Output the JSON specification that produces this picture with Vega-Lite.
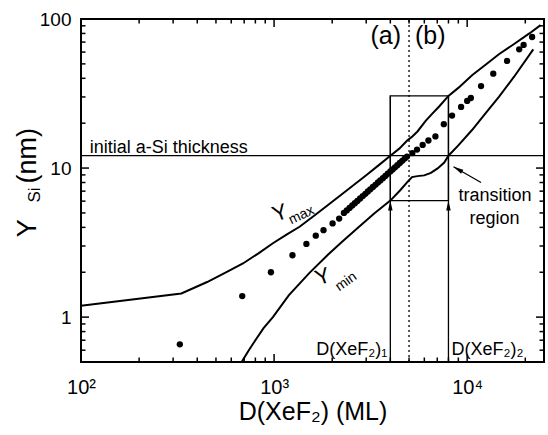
{
  "$schema": "https://vega.github.io/schema/vega-lite/v6.json",
  "width": 463,
  "height": 343,
  "autosize": "none",
  "padding": {"left": 81, "top": 19, "right": 4, "bottom": 73},
  "background": "white",
  "config": {"view": {"stroke": "black", "strokeWidth": 2}, "font": "Liberation Sans"},
  "resolve": {"axis": {"x": "independent", "y": "independent"}},
  "datasets": {
    "ymax": [
      {"x": 100, "y": 1.19}, {"x": 331, "y": 1.44}, {"x": 450, "y": 1.72}, {"x": 560, "y": 1.99},
      {"x": 690, "y": 2.29}, {"x": 830, "y": 2.68}, {"x": 986, "y": 3.13}, {"x": 1160, "y": 3.58},
      {"x": 1355, "y": 4.04}, {"x": 1650, "y": 4.9}, {"x": 2000, "y": 5.95}, {"x": 2450, "y": 7.3},
      {"x": 3000, "y": 8.95}, {"x": 3500, "y": 10.5}, {"x": 4000, "y": 12.1}, {"x": 4450, "y": 13.5},
      {"x": 4920, "y": 15.4}, {"x": 5200, "y": 16.3}, {"x": 5530, "y": 17.6}, {"x": 6110, "y": 20.8},
      {"x": 6600, "y": 23.2}, {"x": 7160, "y": 25.9}, {"x": 8000, "y": 30.5}, {"x": 9000, "y": 34.5},
      {"x": 10600, "y": 42}, {"x": 12500, "y": 49.5}, {"x": 14600, "y": 58}, {"x": 17500, "y": 68},
      {"x": 21000, "y": 80}, {"x": 24000, "y": 91}
    ],
    "ymin": [
      {"x": 679, "y": 0.5}, {"x": 740, "y": 0.6}, {"x": 800, "y": 0.7}, {"x": 880, "y": 0.84},
      {"x": 986, "y": 1.0}, {"x": 1191, "y": 1.4}, {"x": 1525, "y": 1.98}, {"x": 1900, "y": 2.62},
      {"x": 2250, "y": 3.2}, {"x": 2700, "y": 3.95}, {"x": 3300, "y": 4.95}, {"x": 4000, "y": 6.05},
      {"x": 4500, "y": 7.1}, {"x": 4920, "y": 8.1}, {"x": 5180, "y": 8.7}, {"x": 5530, "y": 8.83},
      {"x": 5990, "y": 8.93}, {"x": 6490, "y": 9.29}, {"x": 7030, "y": 9.95}, {"x": 7610, "y": 10.9},
      {"x": 8000, "y": 12.1}, {"x": 9000, "y": 14.2}, {"x": 10600, "y": 18}, {"x": 12500, "y": 23.5},
      {"x": 14600, "y": 30}, {"x": 17500, "y": 41}, {"x": 22000, "y": 62.5}
    ],
    "dots": [
      {"x": 325, "y": 0.657}, {"x": 684, "y": 1.385}, {"x": 963, "y": 2.0}, {"x": 1245, "y": 2.6},
      {"x": 1470, "y": 3.1}, {"x": 1644, "y": 3.52}, {"x": 1803, "y": 3.83}, {"x": 2009, "y": 4.25},
      {"x": 2173, "y": 4.58}, {"x": 2300, "y": 5.0}, {"x": 2380, "y": 5.2}, {"x": 2460, "y": 5.4},
      {"x": 2540, "y": 5.61}, {"x": 2620, "y": 5.81}, {"x": 2700, "y": 6.02}, {"x": 2790, "y": 6.25},
      {"x": 2880, "y": 6.49}, {"x": 2970, "y": 6.72}, {"x": 3060, "y": 6.96}, {"x": 3150, "y": 7.2},
      {"x": 3250, "y": 7.46}, {"x": 3350, "y": 7.72}, {"x": 3450, "y": 8.0}, {"x": 3550, "y": 8.26},
      {"x": 3660, "y": 8.56}, {"x": 3770, "y": 8.86}, {"x": 3880, "y": 9.16}, {"x": 4000, "y": 9.49},
      {"x": 4110, "y": 9.79}, {"x": 4230, "y": 10.12}, {"x": 4350, "y": 10.45}, {"x": 4480, "y": 10.81},
      {"x": 4610, "y": 11.18}, {"x": 4750, "y": 11.57}, {"x": 4880, "y": 11.94},
      {"x": 5200, "y": 12.6}, {"x": 5500, "y": 13.3}, {"x": 5880, "y": 14.3}, {"x": 6300, "y": 15.3},
      {"x": 6850, "y": 16.3}, {"x": 7570, "y": 19.7}, {"x": 8350, "y": 22.5}, {"x": 9300, "y": 25.7},
      {"x": 10000, "y": 28.2}, {"x": 10450, "y": 29.5}, {"x": 11800, "y": 35.5}, {"x": 13650, "y": 43},
      {"x": 16100, "y": 52.3}, {"x": 18600, "y": 62.6}, {"x": 19600, "y": 67}, {"x": 21700, "y": 75.7}
    ],
    "xmajor": [{"x": 100}, {"x": 1000}, {"x": 10000}],
    "xminor": [
      {"x": 200}, {"x": 300}, {"x": 400}, {"x": 500}, {"x": 600}, {"x": 700}, {"x": 800}, {"x": 900},
      {"x": 2000}, {"x": 3000}, {"x": 4000}, {"x": 5000}, {"x": 6000}, {"x": 7000}, {"x": 8000}, {"x": 9000},
      {"x": 20000}
    ],
    "ymajor": [{"y": 1}, {"y": 10}, {"y": 100}],
    "yminor": [
      {"y": 0.5}, {"y": 0.6}, {"y": 0.7}, {"y": 0.8}, {"y": 0.9},
      {"y": 2}, {"y": 3}, {"y": 4}, {"y": 5}, {"y": 6}, {"y": 7}, {"y": 8}, {"y": 9},
      {"y": 20}, {"y": 30}, {"y": 40}, {"y": 50}, {"y": 60}, {"y": 70}, {"y": 80}, {"y": 90}
    ]
  },
  "layer": [
    {
      "data": {"name": "ymax"},
      "mark": {"type": "line", "color": "black", "strokeWidth": 2},
      "encoding": {
        "x": {
          "field": "x", "type": "quantitative",
          "scale": {"type": "log", "domain": [100, 25000], "nice": false},
          "axis": {
            "orient": "bottom", "grid": false, "domain": false, "ticks": false,
            "values": [100, 1000, 10000],
            "labelExpr": "datum.value == 100 ? '10²' : datum.value == 1000 ? '10³' : '10⁴'",
            "labelFontSize": 20, "labelFont": "Liberation Sans", "labelColor": "black",
            "labelOverlap": false, "labelFlush": false, "labelPadding": 15,
            "title": "D(XeF₂) (ML)", "titleFont": "Liberation Sans", "titleFontSize": 25,
            "titleFontWeight": "normal", "titleColor": "black", "titlePadding": 2
          }
        },
        "y": {
          "field": "y", "type": "quantitative",
          "scale": {"type": "log", "domain": [0.5, 100], "nice": false},
          "axis": {
            "orient": "left", "grid": false, "domain": false, "ticks": false,
            "values": [1, 10, 100],
            "labelExpr": "datum.value == 1 ? '1' : datum.value == 10 ? '10' : '100'",
            "labelFontSize": 19, "labelFont": "Liberation Sans", "labelColor": "black",
            "labelOverlap": false, "labelFlush": false, "labelPadding": 10,
            "title": null
          }
        }
      }
    },
    {
      "data": {"name": "xmajor"},
      "mark": {"type": "tick", "orient": "vertical", "size": 16, "thickness": 1.5, "color": "black", "opacity": 1, "clip": true},
      "encoding": {
        "x": {"field": "x", "type": "quantitative", "scale": {"type": "log", "domain": [100, 25000], "nice": false}, "axis": null},
        "y": {"datum": 0.5, "type": "quantitative", "scale": {"type": "log", "domain": [0.5, 100], "nice": false}, "axis": null}
      }
    },
    {
      "data": {"name": "xmajor"},
      "mark": {"type": "tick", "orient": "vertical", "size": 16, "thickness": 1.5, "color": "black", "opacity": 1, "clip": true},
      "encoding": {
        "x": {"field": "x", "type": "quantitative", "scale": {"type": "log", "domain": [100, 25000], "nice": false}, "axis": null},
        "y": {"datum": 100, "type": "quantitative", "scale": {"type": "log", "domain": [0.5, 100], "nice": false}, "axis": null}
      }
    },
    {
      "data": {"name": "xminor"},
      "mark": {"type": "tick", "orient": "vertical", "size": 9, "thickness": 1.5, "color": "black", "opacity": 1, "clip": true},
      "encoding": {
        "x": {"field": "x", "type": "quantitative", "scale": {"type": "log", "domain": [100, 25000], "nice": false}, "axis": null},
        "y": {"datum": 0.5, "type": "quantitative", "scale": {"type": "log", "domain": [0.5, 100], "nice": false}, "axis": null}
      }
    },
    {
      "data": {"name": "xminor"},
      "mark": {"type": "tick", "orient": "vertical", "size": 9, "thickness": 1.5, "color": "black", "opacity": 1, "clip": true},
      "encoding": {
        "x": {"field": "x", "type": "quantitative", "scale": {"type": "log", "domain": [100, 25000], "nice": false}, "axis": null},
        "y": {"datum": 100, "type": "quantitative", "scale": {"type": "log", "domain": [0.5, 100], "nice": false}, "axis": null}
      }
    },
    {
      "data": {"name": "ymajor"},
      "mark": {"type": "tick", "orient": "horizontal", "size": 16, "thickness": 1.5, "color": "black", "opacity": 1, "clip": true},
      "encoding": {
        "y": {"field": "y", "type": "quantitative", "scale": {"type": "log", "domain": [0.5, 100], "nice": false}, "axis": null},
        "x": {"datum": 100, "type": "quantitative", "scale": {"type": "log", "domain": [100, 25000], "nice": false}, "axis": null}
      }
    },
    {
      "data": {"name": "ymajor"},
      "mark": {"type": "tick", "orient": "horizontal", "size": 16, "thickness": 1.5, "color": "black", "opacity": 1, "clip": true},
      "encoding": {
        "y": {"field": "y", "type": "quantitative", "scale": {"type": "log", "domain": [0.5, 100], "nice": false}, "axis": null},
        "x": {"datum": 25000, "type": "quantitative", "scale": {"type": "log", "domain": [100, 25000], "nice": false}, "axis": null}
      }
    },
    {
      "data": {"name": "yminor"},
      "mark": {"type": "tick", "orient": "horizontal", "size": 9, "thickness": 1.5, "color": "black", "opacity": 1, "clip": true},
      "encoding": {
        "y": {"field": "y", "type": "quantitative", "scale": {"type": "log", "domain": [0.5, 100], "nice": false}, "axis": null},
        "x": {"datum": 100, "type": "quantitative", "scale": {"type": "log", "domain": [100, 25000], "nice": false}, "axis": null}
      }
    },
    {
      "data": {"name": "yminor"},
      "mark": {"type": "tick", "orient": "horizontal", "size": 9, "thickness": 1.5, "color": "black", "opacity": 1, "clip": true},
      "encoding": {
        "y": {"field": "y", "type": "quantitative", "scale": {"type": "log", "domain": [0.5, 100], "nice": false}, "axis": null},
        "x": {"datum": 25000, "type": "quantitative", "scale": {"type": "log", "domain": [100, 25000], "nice": false}, "axis": null}
      }
    },
    {
      "data": {"name": "ymin"},
      "mark": {"type": "line", "color": "black", "strokeWidth": 2, "clip": true},
      "encoding": {
        "x": {"field": "x", "type": "quantitative", "scale": {"type": "log", "domain": [100, 25000], "nice": false}, "axis": null},
        "y": {"field": "y", "type": "quantitative", "scale": {"type": "log", "domain": [0.5, 100], "nice": false}, "axis": null}
      }
    },
    {
      "data": {"name": "dots"},
      "mark": {"type": "point", "filled": true, "color": "black", "size": 40, "opacity": 1},
      "encoding": {
        "x": {"field": "x", "type": "quantitative", "scale": {"type": "log", "domain": [100, 25000], "nice": false}, "axis": null},
        "y": {"field": "y", "type": "quantitative", "scale": {"type": "log", "domain": [0.5, 100], "nice": false}, "axis": null}
      }
    },
    {
      "data": {"values": [{"x": 4000, "x2": 8000, "y": 6.05, "y2": 30.5}]},
      "mark": {"type": "rect", "fill": "transparent", "stroke": "black", "strokeWidth": 1.3},
      "encoding": {
        "x": {"field": "x", "type": "quantitative", "scale": {"type": "log", "domain": [100, 25000], "nice": false}, "axis": null},
        "x2": {"field": "x2"},
        "y": {"field": "y", "type": "quantitative", "scale": {"type": "log", "domain": [0.5, 100], "nice": false}, "axis": null},
        "y2": {"field": "y2"}
      }
    },
    {
      "data": {"values": [{"y": 12.1}]},
      "mark": {"type": "rule", "color": "black", "strokeWidth": 1.3},
      "encoding": {
        "y": {"field": "y", "type": "quantitative", "scale": {"type": "log", "domain": [0.5, 100], "nice": false}, "axis": null}
      }
    },
    {
      "data": {"values": [{"x": 5000, "y": 0.5, "y2": 100}]},
      "mark": {"type": "rule", "color": "black", "strokeWidth": 1.3, "strokeDash": [2, 3]},
      "encoding": {
        "x": {"field": "x", "type": "quantitative", "scale": {"type": "log", "domain": [100, 25000], "nice": false}, "axis": null},
        "y": {"field": "y", "type": "quantitative", "scale": {"type": "log", "domain": [0.5, 100], "nice": false}, "axis": null},
        "y2": {"field": "y2"}
      }
    },
    {
      "data": {"values": [{"x": 4000, "y": 0.5, "y2": 30.5}, {"x": 8000, "y": 0.5, "y2": 30.5}]},
      "mark": {"type": "rule", "color": "black", "strokeWidth": 1.3},
      "encoding": {
        "x": {"field": "x", "type": "quantitative", "scale": {"type": "log", "domain": [100, 25000], "nice": false}, "axis": null},
        "y": {"field": "y", "type": "quantitative", "scale": {"type": "log", "domain": [0.5, 100], "nice": false}, "axis": null},
        "y2": {"field": "y2"}
      }
    },
    {
      "data": {"values": [{"x": 4000, "y": 6.05}, {"x": 8000, "y": 6.05}]},
      "mark": {"type": "point", "shape": "M0,0L0.45,2L-0.45,2Z", "size": 100, "filled": true, "color": "black", "opacity": 1},
      "encoding": {
        "x": {"field": "x", "type": "quantitative", "scale": {"type": "log", "domain": [100, 25000], "nice": false}, "axis": null},
        "y": {"field": "y", "type": "quantitative", "scale": {"type": "log", "domain": [0.5, 100], "nice": false}, "axis": null}
      }
    },
    {
      "data": {"values": [{"x": 11800, "y": 8.0, "x2": 8500, "y2": 10.2}]},
      "mark": {"type": "rule", "color": "black", "strokeWidth": 1.3},
      "encoding": {
        "x": {"field": "x", "type": "quantitative", "scale": {"type": "log", "domain": [100, 25000], "nice": false}, "axis": null},
        "y": {"field": "y", "type": "quantitative", "scale": {"type": "log", "domain": [0.5, 100], "nice": false}, "axis": null},
        "x2": {"field": "x2"},
        "y2": {"field": "y2"}
      }
    },
    {
      "data": {"values": [{"x": 8500, "y": 10.2}]},
      "mark": {"type": "point", "shape": "M0,0L0.45,2L-0.45,2Z", "size": 100, "filled": true, "color": "black", "opacity": 1, "angle": 300},
      "encoding": {
        "x": {"field": "x", "type": "quantitative", "scale": {"type": "log", "domain": [100, 25000], "nice": false}, "axis": null},
        "y": {"field": "y", "type": "quantitative", "scale": {"type": "log", "domain": [0.5, 100], "nice": false}, "axis": null}
      }
    },
    {
      "data": {"values": [{"x": 5000, "y": 77, "t": "(a)"}]},
      "mark": {"type": "text", "align": "right", "baseline": "middle", "dx": -8, "fontSize": 25, "font": "Liberation Sans", "color": "black"},
      "encoding": {
        "x": {"field": "x", "type": "quantitative", "scale": {"type": "log", "domain": [100, 25000], "nice": false}, "axis": null},
        "y": {"field": "y", "type": "quantitative", "scale": {"type": "log", "domain": [0.5, 100], "nice": false}, "axis": null},
        "text": {"field": "t"}
      }
    },
    {
      "data": {"values": [{"x": 5000, "y": 77, "t": "(b)"}]},
      "mark": {"type": "text", "align": "left", "baseline": "middle", "dx": 6, "fontSize": 25, "font": "Liberation Sans", "color": "black"},
      "encoding": {
        "x": {"field": "x", "type": "quantitative", "scale": {"type": "log", "domain": [100, 25000], "nice": false}, "axis": null},
        "y": {"field": "y", "type": "quantitative", "scale": {"type": "log", "domain": [0.5, 100], "nice": false}, "axis": null},
        "text": {"field": "t"}
      }
    },
    {
      "data": {"values": [{"x": 111, "y": 12.1, "t": "initial a-Si thickness"}]},
      "mark": {"type": "text", "align": "left", "baseline": "alphabetic", "dy": -3, "fontSize": 18, "font": "Liberation Sans", "color": "black"},
      "encoding": {
        "x": {"field": "x", "type": "quantitative", "scale": {"type": "log", "domain": [100, 25000], "nice": false}, "axis": null},
        "y": {"field": "y", "type": "quantitative", "scale": {"type": "log", "domain": [0.5, 100], "nice": false}, "axis": null},
        "text": {"field": "t"}
      }
    },
    {
      "data": {"values": [{"x": 13950, "y": 6.49, "t": "transition"}, {"x": 13850, "y": 4.55, "t": "region"}]},
      "mark": {"type": "text", "align": "center", "baseline": "middle", "fontSize": 18, "font": "Liberation Sans", "color": "black"},
      "encoding": {
        "x": {"field": "x", "type": "quantitative", "scale": {"type": "log", "domain": [100, 25000], "nice": false}, "axis": null},
        "y": {"field": "y", "type": "quantitative", "scale": {"type": "log", "domain": [0.5, 100], "nice": false}, "axis": null},
        "text": {"field": "t"}
      }
    },
    {
      "data": {"values": [{"x": 4000, "y": 0.6, "t": "D(XeF₂)₁"}]},
      "mark": {"type": "text", "align": "right", "baseline": "middle", "dx": -3, "fontSize": 18, "font": "Liberation Sans", "color": "black"},
      "encoding": {
        "x": {"field": "x", "type": "quantitative", "scale": {"type": "log", "domain": [100, 25000], "nice": false}, "axis": null},
        "y": {"field": "y", "type": "quantitative", "scale": {"type": "log", "domain": [0.5, 100], "nice": false}, "axis": null},
        "text": {"field": "t"}
      }
    },
    {
      "data": {"values": [{"x": 8000, "y": 0.6, "t": "D(XeF₂)₂"}]},
      "mark": {"type": "text", "align": "left", "baseline": "middle", "dx": 3, "fontSize": 18, "font": "Liberation Sans", "color": "black"},
      "encoding": {
        "x": {"field": "x", "type": "quantitative", "scale": {"type": "log", "domain": [100, 25000], "nice": false}, "axis": null},
        "y": {"field": "y", "type": "quantitative", "scale": {"type": "log", "domain": [0.5, 100], "nice": false}, "axis": null},
        "text": {"field": "t"}
      }
    },
    {
      "data": {"values": [{"x": 1074, "y": 5.0, "t": "Y"}, {"x": 1787, "y": 1.87, "t": "Y"}]},
      "mark": {"type": "text", "align": "center", "baseline": "middle", "fontSize": 22, "angle": 340, "font": "Liberation Sans", "color": "black"},
      "encoding": {
        "x": {"field": "x", "type": "quantitative", "scale": {"type": "log", "domain": [100, 25000], "nice": false}, "axis": null},
        "y": {"field": "y", "type": "quantitative", "scale": {"type": "log", "domain": [0.5, 100], "nice": false}, "axis": null},
        "text": {"field": "t"}
      }
    },
    {
      "data": {"values": [{"x": 1387, "y": 4.83, "t": "max"}]},
      "mark": {"type": "text", "align": "center", "baseline": "middle", "fontSize": 14, "angle": 335, "font": "Liberation Sans", "color": "black"},
      "encoding": {
        "x": {"field": "x", "type": "quantitative", "scale": {"type": "log", "domain": [100, 25000], "nice": false}, "axis": null},
        "y": {"field": "y", "type": "quantitative", "scale": {"type": "log", "domain": [0.5, 100], "nice": false}, "axis": null},
        "text": {"field": "t"}
      }
    },
    {
      "data": {"values": [{"x": 2360, "y": 1.73, "t": "min"}]},
      "mark": {"type": "text", "align": "center", "baseline": "middle", "fontSize": 14, "angle": 325, "font": "Liberation Sans", "color": "black"},
      "encoding": {
        "x": {"field": "x", "type": "quantitative", "scale": {"type": "log", "domain": [100, 25000], "nice": false}, "axis": null},
        "y": {"field": "y", "type": "quantitative", "scale": {"type": "log", "domain": [0.5, 100], "nice": false}, "axis": null},
        "text": {"field": "t"}
      }
    },
    {
      "data": {"values": [{"x": 52.9, "y": 3.95, "t": "Y"}, {"x": 53.2, "y": 12.1, "t": "(nm)"}]},
      "mark": {"type": "text", "align": "center", "baseline": "middle", "fontSize": 27, "angle": 270, "font": "Liberation Sans", "color": "black"},
      "encoding": {
        "x": {"field": "x", "type": "quantitative", "scale": {"type": "log", "domain": [100, 25000], "nice": false}, "axis": null},
        "y": {"field": "y", "type": "quantitative", "scale": {"type": "log", "domain": [0.5, 100], "nice": false}, "axis": null},
        "text": {"field": "t"}
      }
    },
    {
      "data": {"values": [{"x": 57.5, "y": 6.6, "t": "Si"}]},
      "mark": {"type": "text", "align": "center", "baseline": "middle", "fontSize": 17, "angle": 270, "font": "Liberation Sans", "color": "black"},
      "encoding": {
        "x": {"field": "x", "type": "quantitative", "scale": {"type": "log", "domain": [100, 25000], "nice": false}, "axis": null},
        "y": {"field": "y", "type": "quantitative", "scale": {"type": "log", "domain": [0.5, 100], "nice": false}, "axis": null},
        "text": {"field": "t"}
      }
    }
  ]
}
